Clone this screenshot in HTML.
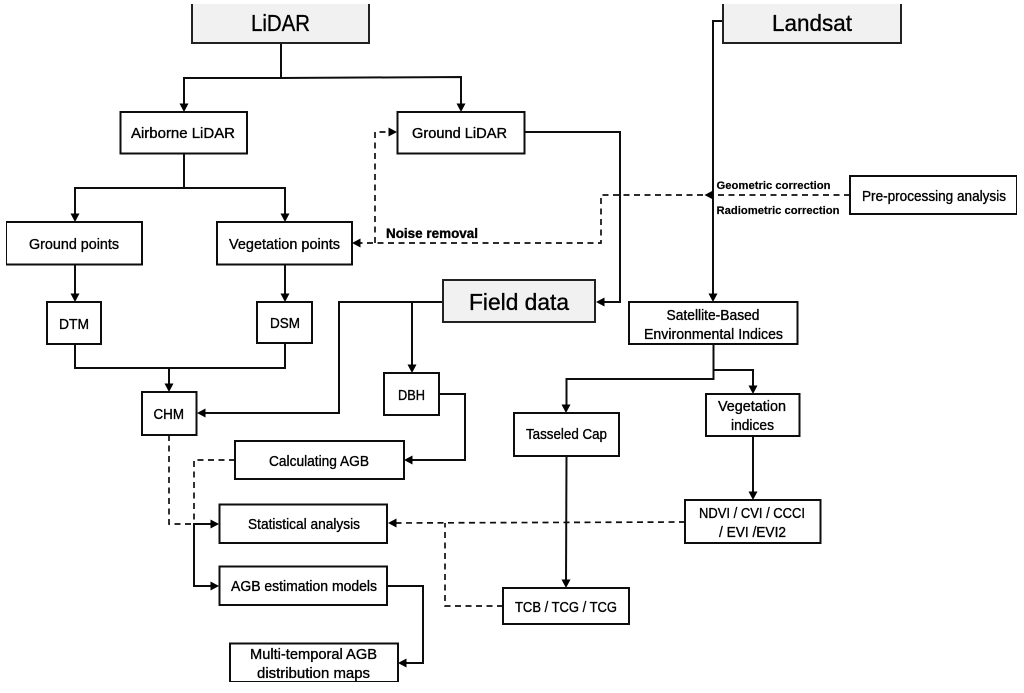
<!DOCTYPE html>
<html><head><meta charset="utf-8"><style>
html,body{margin:0;padding:0;background:#fff}
svg{display:block}
text{font-family:"Liberation Sans",sans-serif;fill:#000;stroke:#000;stroke-width:.35px;font-size:15px}
.b{fill:#fff;stroke:#111;stroke-width:2}
.g{fill:#f1f1f1;stroke:#222;stroke-width:2}
.l{fill:none;stroke:#111;stroke-width:2}
.d{fill:none;stroke:#111;stroke-width:1.7;stroke-dasharray:6 4.5}
.a{fill:#000;stroke:none}
.h{font-size:23px}
.s{font-size:11px;font-weight:bold;stroke-width:.15px}
</style></head><body>
<svg width="1024" height="693" viewBox="0 0 1024 693" xmlns="http://www.w3.org/2000/svg">
<defs><filter id="f" x="0" y="0" width="100%" height="100%"><feGaussianBlur stdDeviation="0.3"/></filter></defs>
<rect width="1024" height="693" fill="#fff"/>
<g filter="url(#f)">
<!-- dashed -->
<path class="d" d="M850 195H601V243H360"/>
<path class="d" d="M375 243V132H390"/>
<path class="d" d="M685 522L395 523"/>
<path class="d" d="M503 606H445V523"/>
<path class="d" d="M235 460H194V524"/>
<path class="d" d="M169 435V524H212"/>
<!-- solid -->
<path class="l" d="M281 43V77M184 106V78H281L461 77V106"/>
<path class="l" d="M184 153V187M75 216V188H285V216"/>
<path class="l" d="M75 264V296M285 264V296"/>
<path class="l" d="M75 344V368H285V343M169 368V386"/>
<path class="l" d="M443 302H339V413H203M412 302V367"/>
<path class="l" d="M439 394H465V460H411"/>
<path class="l" d="M524 132H620V302H603"/>
<path class="l" d="M723 21H713V296"/>
<path class="l" d="M713.500 344V379H566.500V407M713.500 370H753V388"/>
<path class="l" d="M566.500 456L566 582"/>
<path class="l" d="M753 436V494"/>
<path class="l" d="M213 524H194V586H213"/>
<path class="l" d="M387 586H423V663H405"/>
<!-- arrowheads -->
<path class="a" d="M179.500 103.500H188.500L184 112ZM456.500 103.500H465.500L461 112ZM70.500 213.500H79.500L75 222ZM280.500 213.500H289.500L285 222ZM70.500 293.500H79.500L75 302ZM280.500 293.500H289.500L285 302ZM164.500 383.500H173.500L169 392ZM407.500 364.500H416.500L412 373ZM708.500 293.500H717.500L713 302ZM561.500 404.500H570.500L566 413ZM748.500 385.500H757.500L753 394ZM748.500 491.500H757.500L753 500ZM561.500 579.500H570.500L566 588Z"/>
<path class="a" d="M352 243L360.500 238.500V247.500ZM596 302L604.500 297.500V306.500ZM197 413L205.500 408.500V417.500ZM404 460L412.500 455.500V464.500ZM388 523L396.500 518.500V527.500ZM398 663L406.500 658.500V667.500ZM704.500 195L713 190.500V199.500Z"/>
<path class="a" d="M397 132L388.500 127.500V136.500ZM219 524L210.500 519.500V528.500ZM219 586L210.500 581.500V590.500Z"/>
<!-- grey boxes -->
<path class="g" d="M192 4V43H369V4"/>
<path class="g" d="M723 4V43H901V4"/>
<rect class="g" x="443" y="280" width="152" height="42"/>
<!-- boxes -->
<rect class="b" x="120.500" y="112" width="126.500" height="41.500"/>
<rect class="b" x="397.500" y="112" width="127" height="41.500"/>
<rect class="b" x="6" y="222" width="136" height="42.500"/>
<rect class="b" x="217" y="222" width="135" height="42.500"/>
<rect class="b" x="47" y="302" width="54" height="42"/>
<rect class="b" x="257" y="302" width="55" height="41"/>
<rect class="b" x="629" y="302" width="168.500" height="42"/>
<rect class="b" x="850" y="176" width="167" height="38"/>
<rect class="b" x="142" y="392" width="54.500" height="43"/>
<rect class="b" x="384" y="373" width="55" height="42"/>
<rect class="b" x="235" y="441" width="169" height="38"/>
<rect class="b" x="219.500" y="504.500" width="167.500" height="38.500"/>
<rect class="b" x="219.500" y="566.500" width="167.500" height="38.500"/>
<rect class="b" x="230" y="643.500" width="168" height="38.500"/>
<rect class="b" x="514" y="413" width="105" height="43"/>
<rect class="b" x="706" y="394" width="93.500" height="42"/>
<rect class="b" x="685" y="500" width="135.500" height="43"/>
<rect class="b" x="503" y="588" width="126" height="36"/>
<!-- text -->
<text class="h" x="251" y="31" textLength="59" lengthAdjust="spacingAndGlyphs">LiDAR</text>
<text class="h" x="772" y="31" textLength="80" lengthAdjust="spacingAndGlyphs">Landsat</text>
<text class="h" x="469" y="310" textLength="100" lengthAdjust="spacingAndGlyphs">Field data</text>
<text x="131" y="138" textLength="104" lengthAdjust="spacingAndGlyphs">Airborne LiDAR</text>
<text x="412" y="138" textLength="95" lengthAdjust="spacingAndGlyphs">Ground LiDAR</text>
<text x="29" y="249" textLength="90" lengthAdjust="spacingAndGlyphs">Ground points</text>
<text x="229" y="249" textLength="111" lengthAdjust="spacingAndGlyphs">Vegetation points</text>
<text x="59" y="329" textLength="30" lengthAdjust="spacingAndGlyphs">DTM</text>
<text x="270" y="328" textLength="30" lengthAdjust="spacingAndGlyphs">DSM</text>
<text x="386" y="238" textLength="92" lengthAdjust="spacingAndGlyphs" font-weight="bold" style="font-size:14px">Noise removal</text>
<text class="s" x="716.500" y="189" textLength="114" lengthAdjust="spacingAndGlyphs">Geometric correction</text>
<text class="s" x="716.500" y="214" textLength="123" lengthAdjust="spacingAndGlyphs">Radiometric correction</text>
<text x="862" y="201" textLength="144" lengthAdjust="spacingAndGlyphs">Pre-processing analysis</text>
<text x="666.500" y="320" textLength="93" lengthAdjust="spacingAndGlyphs">Satellite-Based</text>
<text x="644" y="339" textLength="139" lengthAdjust="spacingAndGlyphs">Environmental Indices</text>
<text x="153.500" y="419" textLength="30.500" lengthAdjust="spacingAndGlyphs">CHM</text>
<text x="398" y="400" textLength="27" lengthAdjust="spacingAndGlyphs">DBH</text>
<text x="269" y="466" textLength="100" lengthAdjust="spacingAndGlyphs">Calculating AGB</text>
<text x="248" y="529" textLength="112" lengthAdjust="spacingAndGlyphs">Statistical analysis</text>
<text x="231" y="591" textLength="146" lengthAdjust="spacingAndGlyphs">AGB estimation models</text>
<text x="250" y="659" textLength="127" lengthAdjust="spacingAndGlyphs">Multi-temporal AGB</text>
<text x="257" y="678" textLength="113" lengthAdjust="spacingAndGlyphs">distribution  maps</text>
<text x="526" y="439" textLength="81" lengthAdjust="spacingAndGlyphs">Tasseled Cap</text>
<text x="718" y="411" textLength="68" lengthAdjust="spacingAndGlyphs">Vegetation</text>
<text x="731" y="430" textLength="43" lengthAdjust="spacingAndGlyphs">indices</text>
<text x="699" y="518" textLength="106" lengthAdjust="spacingAndGlyphs">NDVI / CVI / CCCI</text>
<text x="719" y="537" textLength="67" lengthAdjust="spacingAndGlyphs">/ EVI /EVI2</text>
<text x="515" y="612" textLength="102" lengthAdjust="spacingAndGlyphs">TCB / TCG / TCG</text>
</g>
</svg>
</body></html>
